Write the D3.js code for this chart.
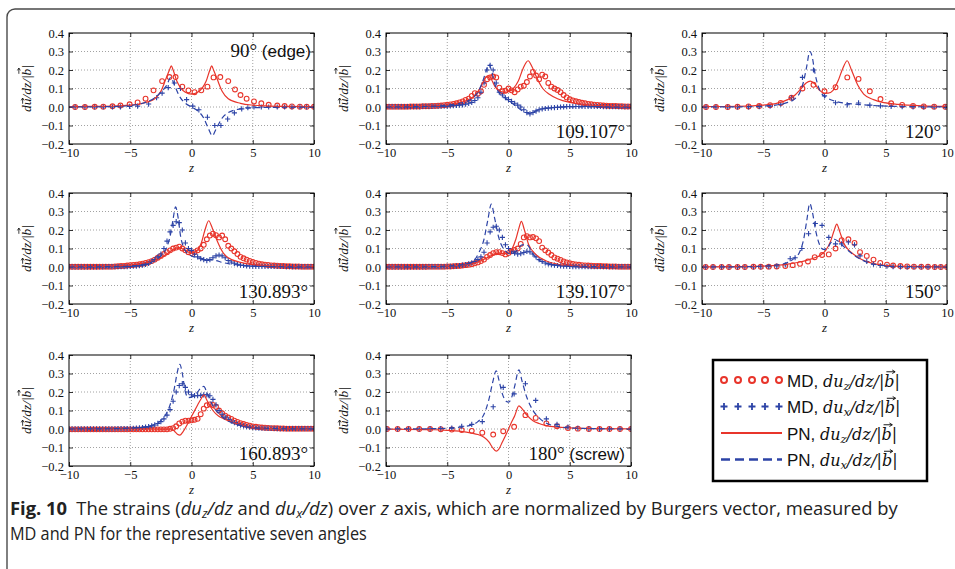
<!DOCTYPE html>
<html>
<head>
<meta charset="utf-8">
<script src="https://cdn.jsdelivr.net/npm/d3@7"></script>
<style>
  body { margin: 0; background: #fff; }
  svg { display: block; }
</style>
</head>
<body>
<svg id="chart" width="955" height="569"></svg>
<script>
// ---- data ----
const X_TICKS = [-10, -5, 0, 5, 10];
const Y_TICKS = [-0.2, -0.1, 0.0, 0.1, 0.2, 0.3, 0.4];

// dense MD sampling (109, 130, 139, 160 deg)
const Z_DENSE = [
  -10, -9.75, -9.5, -9.25, -9, -8.75, -8.5, -8.25, -8, -7.75, -7.5, -7.25, -7, -6.75, -6.5, -6.25, -6, -5.75, -5.5, -5.25,
  -5, -4.75, -4.5, -4.25, -4, -3.75, -3.5, -3.25, -3, -2.75, -2.5, -2.25, -2, -1.75, -1.5, -1.25, -1, -0.75, -0.5, -0.25,
  0, 0.25, 0.5, 0.75, 1, 1.25, 1.5, 1.75, 2, 2.25, 2.5, 2.75, 3, 3.25, 3.5, 3.75, 4, 4.25, 4.5, 4.75, 5,
  5.25, 5.5, 5.75, 6, 6.25, 6.5, 6.75, 7, 7.25, 7.5, 7.75, 8, 8.25, 8.5, 8.75, 9, 9.25, 9.5, 9.75, 10
];

const MD_Z_109 = [
  0.002, 0.002, 0.002, 0.002, 0.002, 0.002, 0.002, 0.002, 0.003, 0.003, 0.003, 0.003, 0.004, 0.004, 0.004, 0.005, 0.006, 0.007, 0.008, 0.010,
  0.012, 0.014, 0.017, 0.02, 0.025, 0.03, 0.038, 0.045, 0.06, 0.075, 0.072, 0.085, 0.12, 0.15, 0.16, 0.165, 0.16, 0.105, 0.085, 0.088,
  0.1, 0.09, 0.08, 0.095, 0.11, 0.115, 0.135, 0.165, 0.19, 0.17, 0.15, 0.175, 0.165, 0.13, 0.11, 0.1, 0.092, 0.08, 0.065, 0.052, 0.042,
  0.036, 0.031, 0.027, 0.023, 0.02, 0.017, 0.015, 0.013, 0.011, 0.01, 0.008, 0.007, 0.006, 0.005, 0.005, 0.004, 0.004, 0.003, 0.003, 0.003
];
const MD_X_109 = [
  0.002, 0.002, 0.002, 0.002, 0.002, 0.002, 0.002, 0.002, 0.002, 0.002, 0.002, 0.002, 0.003, 0.003, 0.003, 0.003, 0.004, 0.004, 0.004, 0.004,
  0.005, 0.006, 0.007, 0.008, 0.01, 0.012, 0.015, 0.02, 0.025, 0.035, 0.05, 0.08, 0.13, 0.2, 0.225, 0.2, 0.13, 0.08, 0.065, 0.05,
  0.04, 0.03, 0.02, 0.01, 0, -0.015, -0.03, -0.037, -0.03, -0.022, -0.015, -0.01, -0.008, -0.006, -0.004, -0.003, -0.002, 0, 0.001, 0.002, 0.003,
  0.003, 0.003, 0.003, 0.003, 0.003, 0.003, 0.003, 0.003, 0.003, 0.003, 0.002, 0.002, 0.002, 0.002, 0.002, 0.002, 0.002, 0.002, 0.002, 0.002
];
const MD_Z_130 = [
  0.001, 0.001, 0.001, 0.001, 0.001, 0.001, 0.001, 0.001, 0.001, 0.001, 0.002, 0.002, 0.002, 0.002, 0.002, 0.003, 0.004, 0.005, 0.006, 0.008,
  0.01, 0.011, 0.013, 0.015, 0.018, 0.022, 0.026, 0.032, 0.04, 0.05, 0.06, 0.07, 0.08, 0.09, 0.1, 0.105, 0.11, 0.1, 0.09, 0.08,
  0.075, 0.08, 0.09, 0.1, 0.12, 0.15, 0.17, 0.18, 0.172, 0.16, 0.17, 0.15, 0.115, 0.1, 0.085, 0.07, 0.055, 0.047, 0.04, 0.033, 0.027,
  0.022, 0.018, 0.015, 0.013, 0.011, 0.009, 0.008, 0.007, 0.006, 0.005, 0.004, 0.004, 0.003, 0.003, 0.003, 0.002, 0.002, 0.002, 0.002, 0.002
];
const MD_X_130 = [
  0.001, 0.001, 0.001, 0.001, 0.001, 0.001, 0.001, 0.001, 0.001, 0.001, 0.001, 0.001, 0.002, 0.002, 0.002, 0.002, 0.002, 0.002, 0.002, 0.002,
  0.003, 0.004, 0.005, 0.007, 0.01, 0.014, 0.02, 0.03, 0.04, 0.055, 0.07, 0.1, 0.14, 0.19, 0.225, 0.245, 0.24, 0.2, 0.13, 0.1,
  0.09, 0.07, 0.055, 0.045, 0.04, 0.035, 0.04, 0.05, 0.06, 0.065, 0.06, 0.05, 0.035, 0.027, 0.02, 0.015, 0.01, 0.008, 0.006, 0.005, 0.004,
  0.003, 0.003, 0.003, 0.003, 0.003, 0.003, 0.003, 0.003, 0.003, 0.003, 0.002, 0.002, 0.002, 0.002, 0.002, 0.002, 0.002, 0.002, 0.002, 0.002
];
const MD_Z_139 = [
  0.001, 0.001, 0.001, 0.001, 0.001, 0.001, 0.001, 0.001, 0.001, 0.001, 0.001, 0.001, 0.001, 0.001, 0.002, 0.002, 0.002, 0.002, 0.002, 0.002,
  0.003, 0.003, 0.004, 0.005, 0.006, 0.008, 0.01, 0.012, 0.015, 0.02, 0.025, 0.032, 0.04, 0.055, 0.065, 0.075, 0.08, 0.08, 0.075, 0.068,
  0.075, 0.085, 0.092, 0.1, 0.125, 0.16, 0.167, 0.16, 0.162, 0.155, 0.14, 0.105, 0.09, 0.078, 0.065, 0.052, 0.045, 0.038, 0.03, 0.025, 0.02,
  0.017, 0.014, 0.012, 0.01, 0.009, 0.008, 0.007, 0.006, 0.005, 0.005, 0.004, 0.004, 0.003, 0.003, 0.003, 0.002, 0.002, 0.002, 0.002, 0.002
];
const MD_X_139 = [
  0.001, 0.001, 0.001, 0.001, 0.001, 0.001, 0.001, 0.001, 0.001, 0.001, 0.001, 0.001, 0.001, 0.001, 0.002, 0.002, 0.002, 0.002, 0.002, 0.002,
  0.003, 0.003, 0.004, 0.005, 0.007, 0.01, 0.013, 0.017, 0.022, 0.03, 0.04, 0.055, 0.08, 0.13, 0.19, 0.215, 0.22, 0.2, 0.16, 0.12,
  0.1, 0.085, 0.075, 0.07, 0.072, 0.078, 0.085, 0.082, 0.07, 0.055, 0.04, 0.03, 0.022, 0.017, 0.013, 0.01, 0.008, 0.006, 0.005, 0.004, 0.003,
  0.002, 0.002, 0.002, 0.002, 0.002, 0.002, 0.002, 0.002, 0.002, 0.002, 0.002, 0.002, 0.002, 0.002, 0.002, 0.002, 0.002, 0.002, 0.002, 0.002
];
const MD_Z_160 = [
  -0.002, -0.002, -0.002, -0.002, -0.002, -0.002, -0.002, -0.002, -0.002, -0.002, -0.002, -0.002, -0.002, -0.002, -0.002, -0.002, -0.002, -0.002, -0.002, -0.002,
  -0.002, -0.002, -0.002, -0.002, -0.002, -0.002, -0.002, -0.002, -0.002, -0.002, -0.002, -0.002, -0.002, 0.001, 0.005, 0.015, 0.03, 0.04, 0.045, 0.045,
  0.047, 0.05, 0.055, 0.08, 0.11, 0.128, 0.133, 0.13, 0.12, 0.1, 0.085, 0.072, 0.062, 0.055, 0.045, 0.038, 0.032, 0.027, 0.022, 0.018, 0.014,
  0.012, 0.01, 0.008, 0.007, 0.006, 0.005, 0.004, 0.004, 0.003, 0.003, 0.002, 0.002, 0.002, 0.002, 0.002, 0.002, 0.002, 0.002, 0.002, 0.002
];
const MD_X_160 = [
  0.001, 0.001, 0.001, 0.001, 0.001, 0.001, 0.001, 0.001, 0.001, 0.001, 0.001, 0.001, 0.001, 0.001, 0.001, 0.001, 0.002, 0.002, 0.002, 0.002,
  0.003, 0.004, 0.005, 0.006, 0.008, 0.01, 0.013, 0.017, 0.022, 0.03, 0.04, 0.055, 0.075, 0.105, 0.15, 0.2, 0.235, 0.245, 0.225, 0.2,
  0.185, 0.18, 0.18, 0.182, 0.185, 0.185, 0.18, 0.16, 0.13, 0.1, 0.08, 0.065, 0.052, 0.042, 0.034, 0.027, 0.021, 0.017, 0.013, 0.01, 0.008,
  0.006, 0.005, 0.004, 0.004, 0.003, 0.003, 0.003, 0.002, 0.002, 0.002, 0.002, 0.002, 0.002, 0.002, 0.002, 0.002, 0.002, 0.002, 0.002, 0.002
];

// sparse MD samples [z, value]
const MD_Z_90 = [[-9.5,0],[-8.7,0],[-7.9,0.001],[-7.2,0.002],[-6.45,0.004],[-5.8,0.008],[-5.05,0.015],[-4.4,0.025],[-3.75,0.045],[-3.1,0.09],[-2.4,0.14],[-1.8,0.162],[-1.3,0.162],[-0.75,0.11],[-0.25,0.09],[0.25,0.08],[0.8,0.09],[1.3,0.11],[1.8,0.16],[2.35,0.162],[3.0,0.14],[3.55,0.095],[4.0,0.065],[4.5,0.045],[5.1,0.03],[5.7,0.02],[6.3,0.012],[7.0,0.008],[7.6,0.005],[8.2,0.003],[8.85,0.002],[9.4,0.001],[10,0.001]];
const MD_X_90 = [[-9.5,0],[-8.7,0],[-7.9,0],[-7.2,0],[-6.45,0],[-5.8,0.001],[-5.05,0.003],[-4.4,0.005],[-3.5,0.016],[-2.85,0.05],[-2.4,0.075],[-1.9,0.105],[-1.4,0.13],[-0.9,0.1],[-0.4,0.04],[0.1,0.005],[0.6,-0.015],[1.3,-0.055],[1.9,-0.1],[2.4,-0.1],[2.95,-0.065],[3.5,-0.032],[4.1,-0.01],[4.6,-0.004],[5.1,0],[5.7,0],[6.3,0],[7,0],[7.6,0],[8.2,0],[8.85,0],[9.4,0],[10,0]];
const MD_Z_120 = [[-9.67,0],[-8.86,0],[-7.9,0],[-7.1,0.001],[-6.2,0.003],[-5.33,0.005],[-4.44,0.01],[-3.57,0.022],[-2.7,0.05],[-1.8,0.1],[-0.9,0.12],[0,0.085],[0.9,0.107],[1.86,0.16],[2.78,0.152],[3.7,0.085],[4.57,0.043],[5.44,0.02],[6.34,0.011],[7.23,0.006],[8.1,0.003],[8.95,0.002],[9.86,0.001]];
const MD_X_120 = [[-9.67,0],[-8.86,0],[-7.9,0],[-7.1,0],[-6.2,0.001],[-5.33,0.002],[-4.44,0.005],[-3.57,0.015],[-2.7,0.05],[-1.8,0.16],[-0.9,0.2],[0,0.06],[0.9,0.023],[1.86,0.012],[2.78,0.022],[3.7,0.01],[4.57,0.006],[5.44,0.003],[6.34,0.002],[7.23,0.001],[8.1,0],[8.95,0],[9.86,0]];
const MD_Z_150 = [[-9.7,0],[-9.1,0],[-8.4,0],[-7.8,0],[-7.1,0],[-6.5,0],[-5.8,0.001],[-5.2,0.001],[-4.55,0.002],[-3.9,0.003],[-3.2,0.005],[-2.6,0.01],[-2.0,0.017],[-1.35,0.03],[-0.8,0.053],[-0.2,0.065],[0.35,0.068],[0.9,0.1],[1.4,0.145],[1.95,0.15],[2.45,0.13],[2.9,0.08],[3.45,0.06],[4.0,0.04],[4.55,0.022],[5.1,0.013],[5.6,0.008],[6.2,0.005],[6.75,0.003],[7.3,0.002],[7.9,0.001],[8.45,0.001],[9.0,0],[9.5,0],[10,0]];
const MD_X_150 = [[-9.7,0],[-9.1,0],[-8.4,0],[-7.8,0],[-7.1,0],[-6.5,0],[-5.8,0],[-5.2,0.001],[-4.55,0.002],[-3.9,0.005],[-3.2,0.012],[-2.8,0.045],[-2.4,0.05],[-1.85,0.1],[-1.3,0.18],[-0.75,0.235],[-0.2,0.225],[0.35,0.16],[0.9,0.125],[1.4,0.125],[1.95,0.135],[2.45,0.12],[2.9,0.06],[3.45,0.03],[4.0,0.015],[4.55,0.008],[5.1,0.004],[5.6,0.002],[6.2,0.001],[6.75,0],[7.3,0],[7.9,0],[8.45,0],[9.0,0],[9.5,0],[10,0]];
const MD_Z_180 = [[-9.92,0],[-9.05,0],[-8.16,0],[-7.29,0],[-6.4,0],[-5.53,-0.001],[-4.63,-0.003],[-3.82,-0.006],[-3.0,-0.01],[-2.14,-0.02],[-1.25,-0.03],[-0.43,-0.012],[0.46,0.012],[1.38,0.075],[2.22,0.06],[3.09,0.03],[3.96,0.015],[4.85,0.005],[5.66,0.002],[6.56,0],[7.43,0],[8.24,0],[9.1,0],[10,0]];
const MD_X_180 = [[-9.92,0],[-9.05,0],[-8.16,0],[-7.29,0],[-6.4,0.001],[-5.53,0.002],[-4.63,0.005],[-3.82,0.015],[-3.0,0.025],[-2.14,0.04],[-1.25,0.12],[-0.43,0.225],[0.46,0.19],[1.38,0.245],[2.22,0.155],[3.09,0.055],[3.96,0.025],[4.85,0.01],[5.66,0.004],[6.56,0.001],[7.43,0],[8.24,0],[9.1,0],[10,0]];

// PN model curves [z, value]
const PN_Z_90 = [[-10,0.002],[-8,0.003],[-6,0.006],[-5,0.01],[-4,0.02],[-3,0.045],[-2.5,0.085],[-2.1,0.15],[-1.8,0.2],[-1.65,0.222],[-1.5,0.2],[-1.2,0.14],[-0.9,0.105],[-0.5,0.08],[0,0.07],[0.5,0.08],[0.9,0.105],[1.2,0.14],[1.5,0.2],[1.65,0.222],[1.8,0.2],[2.1,0.15],[2.5,0.085],[3,0.045],[4,0.02],[5,0.01],[6,0.006],[8,0.003],[10,0.002]];
const PN_X_90 = [[-10,0],[-6,0.003],[-5,0.008],[-4,0.02],[-3,0.05],[-2.5,0.08],[-2,0.12],[-1.7,0.16],[-1.4,0.12],[-1,0.06],[-0.5,0.02],[0,0],[0.5,-0.02],[1,-0.06],[1.4,-0.12],[1.7,-0.155],[2,-0.12],[2.5,-0.06],[3,-0.03],[4,-0.01],[5,-0.004],[10,0]];
const PN_Z_109 = [[-10,0.002],[-8,0.003],[-6,0.007],[-5,0.012],[-4,0.022],[-3,0.05],[-2.5,0.08],[-2.1,0.13],[-1.8,0.165],[-1.6,0.17],[-1.4,0.15],[-1.1,0.11],[-0.7,0.085],[-0.3,0.08],[0,0.083],[0.4,0.1],[0.8,0.14],[1.2,0.21],[1.6,0.25],[1.9,0.22],[2.3,0.16],[2.8,0.1],[3.3,0.07],[4,0.045],[5,0.025],[6,0.015],[8,0.006],[10,0.003]];
const PN_X_109 = [[-10,0],[-6,0.005],[-5,0.01],[-4,0.02],[-3,0.045],[-2.5,0.08],[-2.1,0.14],[-1.8,0.2],[-1.6,0.23],[-1.4,0.2],[-1.1,0.12],[-0.8,0.08],[-0.4,0.055],[0,0.035],[0.5,0.01],[1,-0.015],[1.4,-0.03],[1.7,-0.035],[2.1,-0.025],[2.7,-0.01],[3.5,-0.003],[5,0],[10,0]];
const PN_Z_120 = [[-10,0.002],[-7,0.004],[-5,0.01],[-4,0.018],[-3,0.04],[-2.4,0.065],[-1.9,0.1],[-1.5,0.13],[-1.15,0.14],[-0.8,0.125],[-0.4,0.09],[0,0.075],[0.3,0.075],[0.7,0.09],[1.1,0.14],[1.5,0.21],[1.85,0.25],[2.2,0.2],[2.7,0.12],[3.2,0.07],[4,0.04],[5,0.022],[6,0.014],[8,0.006],[10,0.003]];
const PN_X_120 = [[-10,0],[-6,0.002],[-5,0.005],[-4,0.01],[-3,0.025],[-2.5,0.04],[-2,0.08],[-1.7,0.14],[-1.45,0.22],[-1.2,0.3],[-1.0,0.27],[-0.8,0.19],[-0.5,0.11],[-0.2,0.07],[0.2,0.05],[0.7,0.035],[1.5,0.022],[2.5,0.015],[3.5,0.01],[5,0.005],[7,0.002],[10,0]];
const PN_Z_130 = [[-10,0.002],[-7,0.004],[-5,0.01],[-4,0.018],[-3,0.035],[-2.5,0.05],[-2,0.07],[-1.5,0.095],[-1,0.105],[-0.5,0.09],[0,0.075],[0.4,0.085],[0.8,0.13],[1.1,0.2],[1.4,0.25],[1.7,0.21],[2.1,0.14],[2.6,0.075],[3,0.05],[4,0.025],[5,0.013],[6,0.008],[8,0.004],[10,0.002]];
const PN_X_130 = [[-10,0],[-6,0.003],[-5,0.006],[-4,0.014],[-3,0.035],[-2.5,0.06],[-2,0.11],[-1.7,0.18],[-1.5,0.26],[-1.3,0.325],[-1.1,0.27],[-0.9,0.17],[-0.6,0.1],[-0.3,0.07],[0,0.06],[0.5,0.05],[1,0.045],[1.5,0.04],[2,0.035],[2.5,0.025],[3,0.018],[4,0.01],[5,0.005],[7,0.002],[10,0]];
const PN_Z_139 = [[-10,0.001],[-7,0.002],[-5,0.005],[-4,0.009],[-3.4,0.012],[-2.4,0.03],[-1.6,0.055],[-1.1,0.07],[-0.8,0.075],[-0.4,0.072],[0,0.075],[0.3,0.1],[0.6,0.15],[0.85,0.21],[1.05,0.247],[1.3,0.2],[1.65,0.12],[2.2,0.07],[3,0.035],[4,0.015],[5,0.008],[7,0.003],[10,0.001]];
const PN_X_139 = [[-10,0],[-6,0.002],[-5,0.005],[-4,0.01],[-3,0.025],[-2.4,0.08],[-2,0.15],[-1.7,0.25],[-1.4,0.34],[-1.15,0.27],[-0.8,0.16],[-0.3,0.09],[0.2,0.07],[0.7,0.09],[1.1,0.12],[1.5,0.12],[2,0.07],[2.5,0.037],[3,0.022],[3.5,0.015],[4.5,0.007],[6,0.003],[10,0]];
const PN_Z_150 = [[-10,0.001],[-7,0.002],[-5,0.005],[-4,0.009],[-3,0.016],[-2,0.027],[-1.4,0.037],[-0.8,0.05],[-0.3,0.065],[0.1,0.09],[0.5,0.14],[0.8,0.2],[1.0,0.232],[1.25,0.19],[1.6,0.125],[2,0.09],[2.4,0.068],[3,0.042],[3.5,0.028],[4.5,0.012],[5.5,0.006],[7,0.003],[10,0.001]];
const PN_X_150 = [[-10,0],[-6,0.002],[-5,0.005],[-4,0.01],[-3,0.025],[-2.5,0.045],[-2,0.085],[-1.7,0.15],[-1.45,0.25],[-1.2,0.343],[-1.0,0.3],[-0.7,0.19],[-0.4,0.12],[-0.1,0.095],[0.2,0.1],[0.5,0.13],[0.8,0.15],[1.1,0.14],[1.5,0.115],[2,0.085],[2.5,0.06],[3,0.04],[3.5,0.025],[4.5,0.01],[6,0.003],[10,0]];
const PN_Z_160 = [[-10,0],[-5,0],[-3,0],[-2,-0.001],[-1.6,0],[-1.35,-0.015],[-1.15,-0.028],[-0.95,-0.033],[-0.7,-0.015],[-0.3,0.03],[0.1,0.08],[0.5,0.13],[0.8,0.165],[1.0,0.184],[1.3,0.15],[1.75,0.1],[2.2,0.07],[2.6,0.056],[3.4,0.035],[4.5,0.015],[5.5,0.006],[7,0.002],[10,0]];
const PN_X_160 = [[-10,0],[-6,0.002],[-5,0.005],[-4,0.01],[-3,0.025],[-2.5,0.045],[-2,0.09],[-1.7,0.14],[-1.4,0.22],[-1.15,0.31],[-0.95,0.35],[-0.75,0.3],[-0.5,0.2],[-0.25,0.17],[0.1,0.175],[0.5,0.2],[0.8,0.225],[1.0,0.23],[1.3,0.19],[1.7,0.13],[2.2,0.085],[2.8,0.05],[3.5,0.03],[4.5,0.012],[6,0.004],[10,0]];
const PN_Z_180 = [[-10,-0.001],[-6,-0.004],[-5,-0.007],[-4,-0.012],[-3,-0.022],[-2.5,-0.03],[-2,-0.045],[-1.6,-0.07],[-1.3,-0.1],[-1.0,-0.12],[-0.8,-0.11],[-0.5,-0.07],[-0.2,-0.03],[0,0],[0.2,0.03],[0.5,0.07],[0.85,0.125],[1.1,0.11],[1.5,0.075],[2,0.045],[2.5,0.03],[3,0.02],[4,0.01],[5,0.006],[7,0.002],[10,0.001]];
const PN_X_180 = [[-10,0],[-6,0.002],[-5,0.004],[-4,0.01],[-3,0.022],[-2.5,0.04],[-2,0.08],[-1.6,0.16],[-1.3,0.25],[-1.0,0.315],[-0.8,0.27],[-0.5,0.19],[-0.2,0.15],[0,0.145],[0.2,0.16],[0.5,0.23],[0.85,0.32],[1.1,0.26],[1.5,0.17],[2,0.1],[2.5,0.06],[3,0.035],[4,0.014],[5,0.006],[7,0.002],[10,0]];

const ANGLE_LABELS = [
  ["90°", " (edge)"], ["109.107°", ""], ["120°", ""],
  ["130.893°", ""], ["139.107°", ""], ["150°", ""],
  ["160.893°", ""], ["180°", " (screw)"]
];

// ---- layout ----
const RED = "#e8352b", BLUE = "#2c43a6";
const SERIF = "'Liberation Serif', 'DejaVu Serif', serif";
const MATH = "'DejaVu Serif', 'Liberation Serif', serif";
const SANS = "'Liberation Sans', Arial, sans-serif";
const W = 245, H = 111;
const COLS = [69, 386, 702];
const ROWS = [33, 193, 355];

const dense = vals => Z_DENSE.map((z, i) => [z, vals[i]]);

const panels = [
  { c: 0, r: 0, mdz: MD_Z_90, mdx: MD_X_90, pnz: PN_Z_90, pnx: PN_X_90, top: true },
  { c: 1, r: 0, mdz: dense(MD_Z_109), mdx: dense(MD_X_109), pnz: PN_Z_109, pnx: PN_X_109 },
  { c: 2, r: 0, mdz: MD_Z_120, mdx: MD_X_120, pnz: PN_Z_120, pnx: PN_X_120 },
  { c: 0, r: 1, mdz: dense(MD_Z_130), mdx: dense(MD_X_130), pnz: PN_Z_130, pnx: PN_X_130 },
  { c: 1, r: 1, mdz: dense(MD_Z_139), mdx: dense(MD_X_139), pnz: PN_Z_139, pnx: PN_X_139 },
  { c: 2, r: 1, mdz: MD_Z_150, mdx: MD_X_150, pnz: PN_Z_150, pnx: PN_X_150 },
  { c: 0, r: 2, mdz: dense(MD_Z_160), mdx: dense(MD_X_160), pnz: PN_Z_160, pnx: PN_X_160 },
  { c: 1, r: 2, mdz: MD_Z_180, mdx: MD_X_180, pnz: PN_Z_180, pnx: PN_X_180 }
];

const svg = d3.select("#chart");

// small vector arrow over a character of a text element (baseline known)
function vecArrow(parent, textSel, idx, baseline, fs, lift) {
  const r = textSel.node().getExtentOfChar(idx);
  const cx = r.x + r.width / 2 + fs * 0.08;
  const w = r.width * 0.85, ya = baseline - lift * fs;
  const x0 = cx - w / 2, x1 = cx + w / 2, hh = fs * 0.11;
  parent.append("path")
    .attr("d", `M${x0},${ya}H${x1}M${x1 - hh * 1.6},${ya - hh}L${x1},${ya}L${x1 - hh * 1.6},${ya + hh}`)
    .attr("fill", "none").attr("stroke", "#111").attr("stroke-width", fs * 0.06);
}

// outer frame with rounded corner
svg.append("rect")
  .attr("x", 7).attr("y", 9).attr("width", 1000).attr("height", 700).attr("rx", 8)
  .attr("fill", "none").attr("stroke", "#4a4a4a").attr("stroke-width", 1.4);

const x = d3.scaleLinear().domain([-10, 10]).range([0, W]);
const y = d3.scaleLinear().domain([-0.2, 0.4]).range([H, 0]);
const line = d3.line().x(d => x(d[0])).y(d => y(d[1])).curve(d3.curveMonotoneX);

svg.append("defs").append("clipPath").attr("id", "plotclip")
  .append("rect").attr("x", 0).attr("y", 0).attr("width", W).attr("height", H);

panels.forEach((p, i) => {
  const g = svg.append("g").attr("transform", `translate(${COLS[p.c]},${ROWS[p.r]})`);

  // grid
  const grid = g.append("g").attr("stroke", "#8a8a8a").attr("stroke-width", 0.8).attr("stroke-dasharray", "1,2");
  grid.append("g").selectAll("line").data(X_TICKS.slice(1, -1)).join("line")
    .attr("x1", d => x(d)).attr("x2", d => x(d)).attr("y1", 0).attr("y2", H);
  grid.append("g").selectAll("line").data(Y_TICKS.slice(1, -1)).join("line")
    .attr("x1", 0).attr("x2", W).attr("y1", d => y(d)).attr("y2", d => y(d));

  // axes
  const fmtX = d3.format("d"), fmtY = d3.format(".1f");
  g.append("g").attr("transform", `translate(0,${H})`)
    .call(d3.axisBottom(x).tickValues(X_TICKS).tickFormat(fmtX).tickSizeInner(-4).tickSizeOuter(0).tickPadding(4))
    .attr("font-family", SERIF).attr("font-size", 12.5);
  g.append("g")
    .call(d3.axisLeft(y).tickValues(Y_TICKS).tickFormat(fmtY).tickSizeInner(-4).tickSizeOuter(0).tickPadding(5))
    .attr("font-family", SERIF).attr("font-size", 12.5);
  g.append("g").call(d3.axisTop(x).tickValues(X_TICKS).tickFormat("").tickSizeInner(-4).tickSizeOuter(0));
  g.append("g").attr("transform", `translate(${W},0)`)
    .call(d3.axisRight(y).tickValues(Y_TICKS).tickFormat("").tickSizeInner(-4).tickSizeOuter(0));
  g.selectAll(".domain").remove();
  g.selectAll(".tick line").attr("stroke", "#000").attr("stroke-width", 0.8);
  g.selectAll(".tick text").attr("fill", "#111");

  const plot = g.append("g").attr("clip-path", "url(#plotclip)");

  // MD du_z : red open circles
  plot.append("g").selectAll("circle").data(p.mdz).join("circle")
    .attr("cx", d => x(d[0])).attr("cy", d => y(d[1])).attr("r", 2.4)
    .attr("fill", "none").attr("stroke", RED).attr("stroke-width", 1.1);

  // MD du_x : blue pluses
  plot.append("g").selectAll("path").data(p.mdx).join("path")
    .attr("transform", d => `translate(${x(d[0])},${y(d[1])})`)
    .attr("d", "M-2.6,0H2.6M0,-2.6V2.6")
    .attr("stroke", BLUE).attr("stroke-width", 1.1);

  // PN curves
  plot.append("path").datum(p.pnz).attr("d", line)
    .attr("fill", "none").attr("stroke", RED).attr("stroke-width", 1.2);
  plot.append("path").datum(p.pnx).attr("d", line)
    .attr("fill", "none").attr("stroke", BLUE).attr("stroke-width", 1.2).attr("stroke-dasharray", "5.5,3.5");

  // frame
  g.append("rect").attr("width", W).attr("height", H)
    .attr("fill", "none").attr("stroke", "#000").attr("stroke-width", 1);

  // angle label
  const lab = ANGLE_LABELS[i];
  const t = g.append("text")
    .attr("x", p.top ? W - 3 : W - 6)
    .attr("y", p.top ? 24 : H - 6)
    .attr("text-anchor", "end").attr("fill", "#111");
  t.append("tspan").attr("font-family", SERIF).attr("font-size", 19).text(lab[0]);
  if (lab[1]) t.append("tspan").attr("font-family", SANS).attr("font-size", 17).text(lab[1]);

  // axis labels
  g.append("text").attr("x", W / 2).attr("y", H + 28).attr("text-anchor", "middle")
    .attr("font-family", SERIF).attr("font-style", "italic").attr("font-size", 13).attr("fill", "#111").text("z");
  const yl = g.append("g").attr("transform", `translate(-38,${H / 2}) rotate(-90)`);
  const ylt = yl.append("text").attr("x", 0).attr("y", 0)
    .attr("text-anchor", "middle").attr("font-family", SERIF).attr("font-style", "italic")
    .attr("font-size", 13.5).attr("fill", "#111")
    .text("du/dz/|b|");
  vecArrow(yl, ylt, 1, 0, 13.5, 0.62);
  vecArrow(yl, ylt, 7, 0, 13.5, 0.9);
});

// ---- legend ----
const LEGEND = [
  { kind: "circle", color: RED, pre: "MD, ", sub: "z" },
  { kind: "plus", color: BLUE, pre: "MD, ", sub: "x" },
  { kind: "solid", color: RED, pre: "PN, ", sub: "z" },
  { kind: "dash", color: BLUE, pre: "PN, ", sub: "x" }
];
const lg = svg.append("g");
lg.append("rect").attr("x", 713).attr("y", 360).attr("width", 214).attr("height", 121)
  .attr("fill", "#fff").attr("stroke", "#000").attr("stroke-width", 2.5);
const mxs = [724, 738, 752, 765, 779];
LEGEND.forEach((d, i) => {
  const cy = 380 + i * 26.5;
  const row = lg.append("g");
  if (d.kind === "circle") {
    row.selectAll("circle").data(mxs).join("circle").attr("cx", v => v).attr("cy", cy).attr("r", 3)
      .attr("fill", "none").attr("stroke", d.color).attr("stroke-width", 2);
  } else if (d.kind === "plus") {
    row.selectAll("path").data(mxs).join("path")
      .attr("transform", v => `translate(${v},${cy})`).attr("d", "M-3.5,0H3.5M0,-3.5V3.5")
      .attr("stroke", d.color).attr("stroke-width", 1.8);
  } else {
    row.append("line").attr("x1", 721).attr("x2", 782).attr("y1", cy).attr("y2", cy)
      .attr("stroke", d.color).attr("stroke-width", d.kind === "dash" ? 2.6 : 2)
      .attr("stroke-dasharray", d.kind === "dash" ? "9,5" : null);
  }
  const base = cy + 6.5;
  const t = row.append("text").attr("x", 787).attr("y", base).attr("fill", "#111");
  t.append("tspan").attr("font-family", SANS).attr("font-size", 17).text(d.pre);
  const m = t.append("tspan").attr("font-family", MATH).attr("font-style", "italic").attr("font-size", 16);
  m.append("tspan").text("du");
  m.append("tspan").attr("font-size", 11.5).attr("dy", 3).text(d.sub);
  m.append("tspan").attr("dy", -3).text("/dz/|b|");
  vecArrow(row, t, 12, base, 16, 0.92);
});

// ---- caption ----
const cap = svg.append("g").attr("font-family", "'Liberation Sans Narrow', 'Open Sans', sans-serif")
  .attr("font-size", 18).attr("fill", "#222");
const c1 = cap.append("text").attr("x", 10).attr("y", 515);
c1.append("tspan").attr("font-weight", "bold").text("Fig. 10");
c1.append("tspan").text("\u2002The strains (");
c1.append("tspan").attr("font-style", "italic").text("du");
c1.append("tspan").attr("font-style", "italic").attr("font-size", 12.5).attr("dy", 3).text("z");
c1.append("tspan").attr("font-style", "italic").attr("dy", -3).text("/dz");
c1.append("tspan").text(" and ");
c1.append("tspan").attr("font-style", "italic").text("du");
c1.append("tspan").attr("font-style", "italic").attr("font-size", 12.5).attr("dy", 3).text("x");
c1.append("tspan").attr("font-style", "italic").attr("dy", -3).text("/dz");
c1.append("tspan").text(") over ");
c1.append("tspan").attr("font-style", "italic").text("z");
c1.append("tspan").text(" axis, which are normalized by Burgers vector, measured by");
const c2 = cap.append("text").attr("x", 10).attr("y", 540)
  .text("MD and PN for the representative seven angles");

// squeeze each line horizontally to the condensed width of the original
[[c1, 888], [c2, 357]].forEach(([t, w]) => {
  const s = w / t.node().getComputedTextLength();
  t.attr("transform", `translate(10,0) scale(${s},1) translate(-10,0)`);
});
</script>
</body>
</html>
